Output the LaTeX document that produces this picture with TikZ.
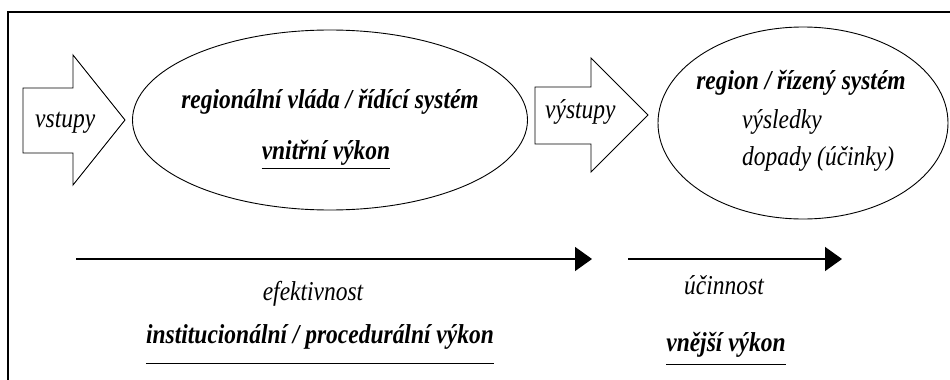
\documentclass[tikz,border=0pt]{standalone}
\usepackage{fontspec}
\setmainfont{Liberation Serif}[FakeStretch=0.86]
\usetikzlibrary{arrows.meta}
\usetikzlibrary{shapes.geometric}
\usetikzlibrary{positioning}

\begin{document}
\begin{tikzpicture}[x=1pt, y=-1pt,
	txt/.style={inner sep=0pt, anchor=base, font=\fontsize{27.3}{32}\selectfont\itshape},
	btxt/.style={txt, font=\fontsize{27.3}{32}\selectfont\bfseries\itshape},
	oval/.style={draw, ellipse, line width=0.9pt, inner sep=0pt},
	blockarrow/.style={draw, line width=0.9pt, line join=miter},
	flow/.style={line width=1.5pt, -{Triangle[length=17pt,width=24pt]}}]
	\useasboundingbox (0,0) rectangle (950,380);
	%frame
	\draw[line width=1.2pt] (8,380)--(8,12)--(950,12);
	%block arrows
	\draw[blockarrow] (23,88)--(73,88)--(73,55)--(125,120)--(73,185)--(73,153)--(23,153)--cycle;
	\draw[blockarrow] (535,87)--(591,87)--(591,58)--(648,115)--(591,172)--(591,144)--(535,144)--cycle;
	\node[txt, anchor=base west] (vstupy) at (35,127) {vstupy};
	\node[txt, anchor=base west] (vystupy) at (545,118) {výstupy};
	%ellipses
	\node[oval, minimum width=395pt, minimum height=180pt] (vlada) at (330,120) {};
	\node[oval, minimum width=290pt, minimum height=192pt] (region) at (803,123) {};
	%texts inside
	\node[btxt] (ridici) at (330,108) {regionální vláda / řídící systém};
	\node[btxt] (vnitrni) at (326,159) {vnitřní výkon};
	\draw[line width=0.9pt] ([yshift=-9pt]vnitrni.base west)--([yshift=-9pt]vnitrni.base east);
	\node[btxt] (rizeny) at (801,89) {region / řízený systém};
	\node[txt, anchor=base west] (vysledky) at (742,128) {výsledky};
	\node[txt, anchor=base west] (dopady) at (742,165) {dopady (účinky)};
	%add arrows
	\coordinate (a1) at (76,259);
	\coordinate (b1) at (592,259);
	\coordinate (a2) at (628,259);
	\coordinate (b2) at (842,259);
	\draw[flow] (a1)--(b1);
	\draw[flow] (a2)--(b2);
	%labels under arrows
	\node[txt] (efekt) at (313,300) {efektivnost};
	\node[btxt] (instit) at (320,343) {institucionální / procedurální výkon};
	\draw[line width=0.9pt] ([yshift=-20pt]instit.base west)--([yshift=-20pt]instit.base east);
	\node[txt] (ucinnost) at (724,294) {účinnost};
	\node[btxt] (vnejsi) at (726,351) {vnější výkon};
	\draw[line width=0.9pt] ([yshift=-13pt]vnejsi.base west)--([yshift=-13pt]vnejsi.base east);
\end{tikzpicture}
\end{document}
